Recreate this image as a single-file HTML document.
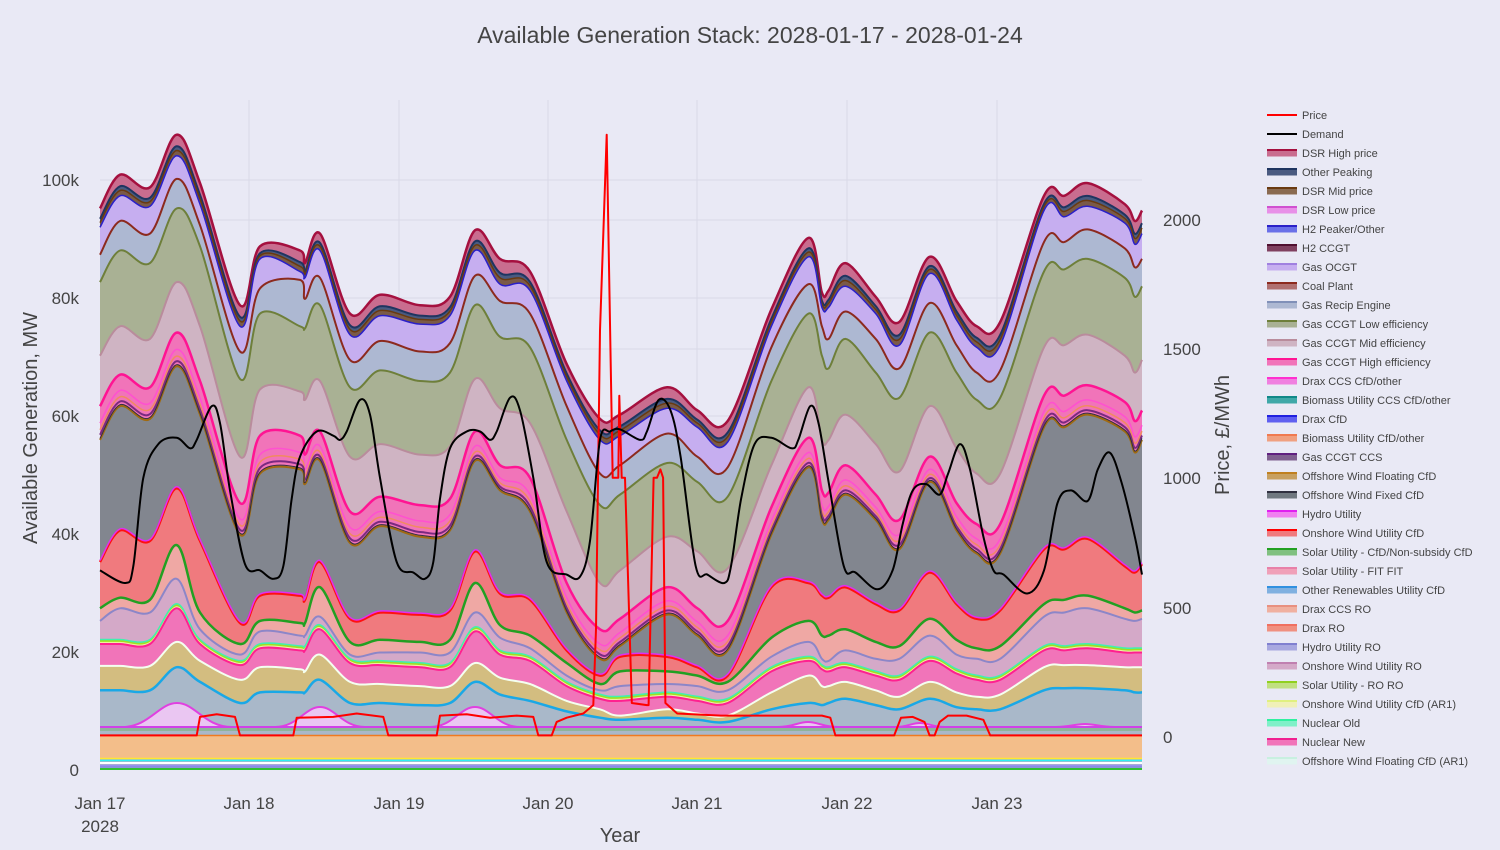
<!DOCTYPE html>
<html><head><meta charset="utf-8">
<style>
html,body{margin:0;padding:0;background:#e9e9f5;}
svg{display:block;font-family:"Liberation Sans",sans-serif;}
</style></head>
<body>
<svg id="s" width="1500" height="850" xmlns="http://www.w3.org/2000/svg">
<rect width="1500" height="850" fill="#e9e9f5"/>
<g id="grid" stroke="#d9d9e8" stroke-width="1"></g>
<g id="areas"></g>
<g id="lines"></g>
<text x="750" y="43" text-anchor="middle" font-size="23" fill="#444">Available Generation Stack: 2028-01-17 - 2028-01-24</text>
<g font-size="17" fill="#444" text-anchor="end">
<text x="79" y="186">100k</text><text x="79" y="304">80k</text><text x="79" y="422">60k</text>
<text x="79" y="540">40k</text><text x="79" y="658">20k</text><text x="79" y="776">0</text>
</g>
<g font-size="17" fill="#444" text-anchor="start">
<text x="1163" y="226">2000</text><text x="1163" y="355">1500</text><text x="1163" y="484">1000</text>
<text x="1163" y="614">500</text><text x="1163" y="743">0</text>
</g>
<g font-size="17" fill="#444" text-anchor="middle">
<text x="100" y="809">Jan 17</text><text x="100" y="832">2028</text>
<text x="249" y="809">Jan 18</text><text x="399" y="809">Jan 19</text><text x="548" y="809">Jan 20</text>
<text x="697" y="809">Jan 21</text><text x="847" y="809">Jan 22</text><text x="997" y="809">Jan 23</text>
</g>
<text x="620" y="842" text-anchor="middle" font-size="20" fill="#444">Year</text>
<text transform="translate(37,428) rotate(-90)" text-anchor="middle" font-size="20" fill="#444">Available Generation, MW</text>
<text transform="translate(1229,435) rotate(-90)" text-anchor="middle" font-size="20" fill="#444">Price, £/MWh</text>
<g id="legend" font-size="11" fill="#444"></g>
</svg>
<script>
var NS="http://www.w3.org/2000/svg";
function el(p,t,a){var e=document.createElementNS(NS,t);for(var k in a)e.setAttribute(k,a[k]);p.appendChild(e);return e;}
var grid=document.getElementById('grid');
[180,298,416,534,652,220,349,478,608].forEach(function(y){el(grid,'line',{x1:100,x2:1142,y1:y,y2:y});});
[249,399,548,697,847,997].forEach(function(x){el(grid,'line',{x1:x,x2:x,y1:100,y2:770});});

var Z1X=[0,60,150,230,300,420,480,600,615,660,750,840,960,1050,1125,1200,1290,1400,1500];
var Z2X=[0,140,230,320,450,560,600,620,670,760,830,920,1000,1060,1130,1260,1320,1390,1500,1530,1560];
var K=660/1568;
function mk(a,b){var p=[];for(var i=0;i<Z1X.length;i++)p.push([100+Z1X[i]/3,120+a[i]*K]);
 for(var j=0;j<Z2X.length;j++)p.push([Math.min(1142,620+Z2X[j]*0.3365),120+b[j]*K]);return p;}
var B={};
B[14]=mk([210,130,160,35,150,440,300,310,340,270,460,415,440,420,262,330,360,580,710],
 [700,635,690,715,450,280,410,405,340,420,480,325,430,490,480,180,180,150,200,240,215]);
B[13]=mk([255,180,205,85,200,490,330,360,375,310,510,465,485,465,310,390,405,620,760],
 [750,685,730,765,490,325,445,445,395,460,535,365,475,540,535,215,230,205,245,295,270]);
B[12]=mk([320,240,270,140,250,550,400,380,425,375,570,525,550,530,370,430,460,680,840],
 [820,745,800,825,540,390,490,520,455,520,590,435,535,600,595,290,290,260,305,350,330]);
B[11]=mk([385,310,340,210,300,615,460,490,495,440,635,595,620,600,440,515,540,760,915],
 [890,815,860,895,620,460,560,590,520,600,660,505,600,665,660,360,355,330,375,420,395]);
B[10]=mk([560,490,520,385,490,800,640,645,665,620,800,770,795,775,615,685,720,930,1100],
 [1070,990,1025,1065,820,635,760,760,700,770,835,680,780,840,840,540,535,510,560,600,570]);
B[9]=mk([680,605,635,505,620,910,750,750,795,740,930,895,915,900,740,820,850,1100,1210],
 [1185,1110,1160,1190,920,755,880,885,820,890,950,800,910,960,960,655,655,630,670,715,690]);
B[8]=mk([760,680,710,585,700,985,840,830,865,810,1005,965,990,975,810,880,930,1170,1280],
 [1250,1175,1225,1260,985,825,950,950,890,950,1020,860,975,1030,1030,730,730,700,740,790,760]);
B[7]=mk([1050,975,1000,875,1000,1195,1130,1130,1140,1050,1185,1170,1175,1165,1025,1125,1140,1260,1320],
 [1275,1275,1300,1320,1110,1100,1130,1135,1110,1150,1165,1075,1150,1185,1165,1020,1020,995,1060,1075,1055]);
B[6]=mk([1160,1135,1140,1010,1170,1245,1190,1195,1195,1110,1240,1235,1240,1235,1100,1200,1225,1290,1340],
 [1310,1310,1320,1335,1230,1190,1225,1225,1210,1240,1250,1185,1235,1255,1250,1150,1140,1130,1160,1170,1165]);
B[5]=mk([1190,1160,1170,1090,1210,1270,1215,1225,1225,1180,1270,1265,1265,1265,1170,1230,1255,1320,1355],
 [1345,1340,1345,1355,1275,1240,1280,1285,1260,1280,1280,1225,1270,1280,1280,1180,1170,1160,1185,1190,1185]);
B[4]=mk([1245,1245,1245,1160,1245,1295,1255,1260,1260,1210,1290,1295,1300,1300,1215,1270,1285,1345,1375],
 [1380,1370,1380,1385,1310,1285,1305,1310,1300,1320,1330,1285,1315,1330,1330,1260,1260,1255,1265,1265,1265]);
B[3]=mk([1297,1297,1297,1240,1285,1330,1300,1305,1310,1270,1335,1340,1345,1345,1290,1325,1340,1380,1400],
 [1415,1400,1410,1415,1360,1320,1345,1345,1335,1355,1370,1335,1360,1370,1365,1300,1295,1295,1300,1300,1300]);
B[2]=mk([1355,1355,1355,1300,1335,1385,1360,1360,1360,1330,1385,1385,1390,1385,1335,1365,1380,1405,1420],
 [1425,1420,1425,1430,1400,1385,1390,1385,1375,1390,1400,1375,1395,1400,1400,1355,1350,1350,1355,1360,1360]);

function curve(p){var d='M'+p[0][0].toFixed(1)+' '+p[0][1].toFixed(1);
 for(var i=0;i<p.length-1;i++){var p0=p[i-1]||p[i],p1=p[i],p2=p[i+1],p3=p[i+2]||p2;
  var c1x=p1[0]+(p2[0]-p0[0])/6,c1y=p1[1]+(p2[1]-p0[1])/6,c2x=p2[0]-(p3[0]-p1[0])/6,c2y=p2[1]-(p3[1]-p1[1])/6;
  d+=' C'+c1x.toFixed(1)+' '+c1y.toFixed(1)+' '+c2x.toFixed(1)+' '+c2y.toFixed(1)+' '+p2[0].toFixed(1)+' '+p2[1].toFixed(1);}
 return d;}
function mix(a,b,t){return a.map(function(q,i){return [q[0],q[1]+(b[i][1]-q[1])*t];});}
function off(a,dy){return a.map(function(q){return [q[0],q[1]+dy];});}
var G=document.getElementById('areas');
function area(p,fill){el(G,'path',{d:curve(p)+' L1142 770 L100 770 Z',fill:fill});}
function line(p,col,w){el(G,'path',{d:curve(p),fill:'none',stroke:col,'stroke-width':w});}

area(B[14],'#c96d8f'); line(B[14],'#a5103f',2.5);
var m1=mix(B[14],B[13],0.55); area(m1,'#4a5a80'); line(m1,'#1f3560',2);
var m2=mix(B[14],B[13],0.75); area(m2,'#7a5a48'); line(m2,'#6a3a10',1.5);
area(B[13],'#c6aef0'); line(B[13],'#2a20c8',1.5);
area(B[12],'#adb8d2'); line(B[12],'#8c2a1e',2);
area(B[11],'#a9b194'); line(B[11],'#6e7f3a',2);
area(B[10],'#cfb4c3'); line(B[10],'#b98c9c',2);
area(B[9],'#f174b9'); line(B[9],'#ff1493',2.5);
var m3=mix(B[9],B[8],0.5); line(m3,'#ff50d0',1.5);
var m4=mix(B[9],B[8],0.7); line(m4,'#f08a60',1.5);
var m5=mix(B[9],B[8],0.85); line(m5,'#7a2a80',2);
area(B[8],'#82868f'); line(B[8],'#a06a10',2); line(off(B[8],-1.5),'#303040',1);
area(B[7],'#f07a7e'); line(B[7],'#ff1010',2.5); line(off(B[7],-1.5),'#e030f0',1.5);
area(B[6],'#efa8a4'); line(B[6],'#22a022',2.5);
area(B[5],'#d4a9c8'); line(B[5],'#8c86c8',2);
line(off(B[4],-3),'#a0e020',2); line(off(B[4],-1.5),'#f0f0a0',1.2);
area(B[4],'#f174b9'); line(B[4],'#ff2090',2);line(off(B[4],-4.5),'#40f0b0',1.5);
area(B[3],'#d3bd80'); line(B[3],'#f4fff0',2);
area(B[2],'#a9b8c9'); line(B[2],'#1aa8e6',2.5);
// solar bumps
[[177,703,55],[320,707,45],[475,707,45],[808,722,30],[920,723,25],[1085,724,30]].forEach(function(b){
 var x=b[0],y=b[1],w=b[2];
 el(G,'path',{d:'M'+(x-w)+' 727 C'+(x-w/2)+' 727 '+(x-w/3)+' '+y+' '+x+' '+y+' C'+(x+w/3)+' '+y+' '+(x+w/2)+' 727 '+(x+w)+' 727 Z',fill:'#eac6f2',stroke:'#e040e0','stroke-width':2});
});
el(G,'rect',{x:100,y:727,width:1042,height:4,fill:'#8fb39a'});
el(G,'line',{x1:100,x2:1142,y1:727,y2:727,stroke:'#d040e8','stroke-width':2});
el(G,'rect',{x:100,y:731,width:1042,height:4,fill:'#a9b8c9'});
el(G,'rect',{x:100,y:735,width:1042,height:23,fill:'#f3be8a'});
el(G,'line',{x1:100,x2:1142,y1:735.5,y2:735.5,stroke:'#f07a20','stroke-width':1.5});
[['#ffe830',758.5,1.5],['#30f0f0',760.5,1.5],['#ffffff',763,2],['#9a90f0',765.5,1.5],['#8088e0',767,1.5],['#30c030',769,2]].forEach(function(s){
 el(G,'line',{x1:100,x2:1142,y1:s[1],y2:s[1],stroke:s[0],'stroke-width':s[2]});});

var L=document.getElementById('lines');
// price
var P1=[[0,1462],[290,1462],[300,1418],[350,1412],[405,1418],[420,1462],[580,1462],[590,1420],[700,1418],[770,1410],[850,1418],[865,1462],[1010,1462],[1020,1415],[1100,1412],[1170,1420],[1250,1415],[1300,1418],[1315,1462],[1355,1462],[1370,1430],[1400,1420],[1450,1410],[1480,1390],[1488,1210],[1500,500],[1520,35],[1538,850],[1555,850],[1558,655]];
var P2=[[5,850],[15,850],[35,1385],[80,1390],[85,1390],[100,850],[110,850],[120,830],[128,850],[135,1385],[170,1410],[300,1415],[600,1415],[625,1420],[640,1462],[815,1462],[835,1420],[870,1418],[905,1430],[920,1462],[935,1462],[950,1430],[975,1415],[1030,1415],[1080,1425],[1100,1462],[1560,1462]];
var pp=P1.map(function(q){return [100+q[0]/3,120+q[1]*K];}).concat(P2.map(function(q){return [Math.min(1142,620+q[0]*0.3365),120+q[1]*K];}));
el(L,'polyline',{points:pp.map(function(q){return q[0].toFixed(1)+','+q[1].toFixed(1);}).join(' '),fill:'none',stroke:'#ff0000','stroke-width':2,'stroke-linejoin':'round'});
// demand
var D1=[[0,1070],[75,1100],[100,1060],[130,850],[175,770],[230,755],[270,780],[290,760],[335,680],[360,720],[390,880],[435,1055],[480,1070],[520,1090],[550,1060],[575,900],[600,800],[650,740],[700,750],[720,760],[740,740],[780,665],[810,700],[840,850],[890,1050],[940,1075],[975,1090],[1000,1050],[1020,900],[1050,780],[1100,740],[1140,740],[1170,760],[1190,740],[1230,660],[1260,690],[1300,850],[1340,1050],[1400,1080],[1440,1085],[1470,1000],[1500,760],[1530,740]];
var D2=[[0,735],[60,760],[80,740],[115,665],[150,690],[180,800],[225,1060],[260,1080],[310,1100],[330,1060],[360,900],[400,770],[450,755],[510,780],[530,760],[565,680],[590,720],[620,860],[665,1060],[700,1075],[765,1115],[810,1070],[840,960],[870,880],[910,865],[950,890],[975,840],[1010,770],[1040,830],[1080,990],[1110,1070],[1140,1080],[1210,1125],[1260,1070],[1300,910],[1340,880],[1390,905],[1420,830],[1455,790],[1490,860],[1530,990],[1560,1080]];
var dd=D1.map(function(q){return [100+q[0]/3,120+q[1]*K];}).concat(D2.map(function(q){return [Math.min(1142,620+q[0]*0.3365),120+q[1]*K];}));
el(L,'path',{d:curve(dd),fill:'none',stroke:'#000','stroke-width':2});

// legend
var LG=document.getElementById('legend');
var items=[['Price','line','#ff0000'],['Demand','line','#000000'],
['DSR High price','#c96d8f','#a5103f'],['Other Peaking','#4a5a80','#1f3560'],['DSR Mid price','#8a6a50','#6a3a10'],
['DSR Low price','#e890e8','#d050d0'],['H2 Peaker/Other','#6a70e8','#2a20c8'],['H2 CCGT','#804060','#501030'],
['Gas OCGT','#c6aef0','#a080e0'],['Coal Plant','#b07070','#8c2a1e'],['Gas Recip Engine','#adb8d2','#8090b8'],
['Gas CCGT Low efficiency','#a9b194','#6e7f3a'],['Gas CCGT Mid efficiency','#cfb4c3','#b98c9c'],['Gas CCGT High efficiency','#f174b9','#ff1493'],
['Drax CCS CfD/other','#f080e0','#ff30d0'],['Biomass Utility CCS CfD/other','#40a8a8','#108888'],['Drax CfD','#6060f0','#2020e0'],
['Biomass Utility CfD/other','#f0a080','#f07a50'],['Gas CCGT CCS','#806090','#602080'],['Offshore Wind Floating CfD','#c8a060','#c08020'],
['Offshore Wind Fixed CfD','#707880','#303040'],['Hydro Utility','#f080f0','#e020f0'],['Onshore Wind Utility CfD','#f07a7e','#ff0000'],
['Solar Utility - CfD/Non-subsidy CfD','#80c080','#22a022'],['Solar Utility - FIT FIT','#f0a0b8','#e880a8'],['Other Renewables Utility CfD','#80b0e0','#3090e0'],
['Drax CCS RO','#f0b0a0','#e89080'],['Drax RO','#f09080','#f07060'],['Hydro Utility RO','#a8a8e0','#8080d0'],
['Onshore Wind Utility RO','#d4a9c8','#c080b0'],['Solar Utility - RO RO','#c0e080','#90d020'],['Onshore Wind Utility CfD (AR1)','#f0f0b8','#e0f080'],
['Nuclear Old','#80f0c8','#30f0a0'],['Nuclear New','#f174b9','#f02090'],['Offshore Wind Floating CfD (AR1)','#e0f4f0','#c8f0e0']];
items.forEach(function(it,i){var y=115+19*i;
 if(it[1]=='line'){el(LG,'line',{x1:1267,x2:1297,y1:y,y2:y,stroke:it[2],'stroke-width':2});}
 else{el(LG,'rect',{x:1267,y:y-3.5,width:30,height:7,fill:it[1]});el(LG,'line',{x1:1267,x2:1297,y1:y-3,y2:y-3,stroke:it[2],'stroke-width':2});}
 var t=el(LG,'text',{x:1302,y:y+4});t.textContent=it[0];});
</script>
</body></html>
